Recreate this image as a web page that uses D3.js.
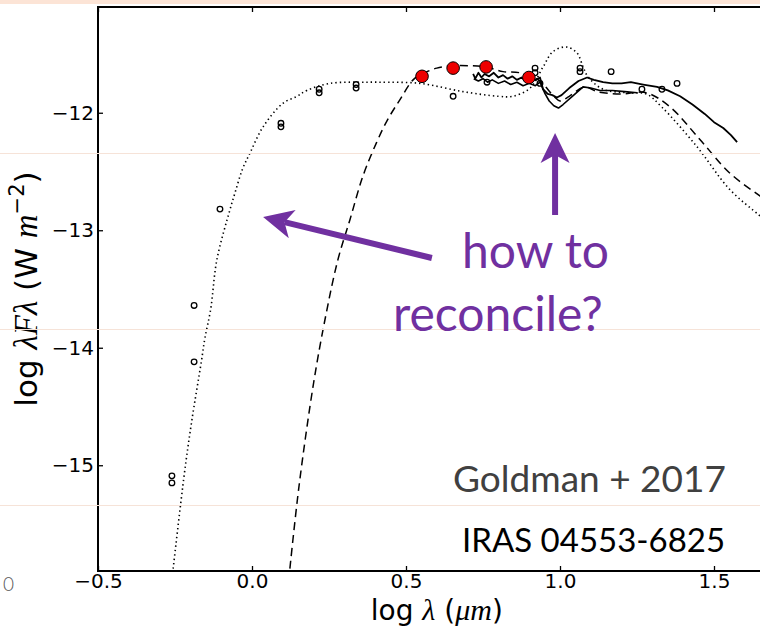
<!DOCTYPE html>
<html>
<head>
<meta charset="utf-8">
<script src="https://cdn.jsdelivr.net/npm/d3@7"></script>
<style>
  html, body { margin: 0; padding: 0; background: #ffffff; }
  svg { display: block; }
</style>
</head>
<body>
<svg id="chart" width="760" height="628"></svg>
<script>
// ---------------- DATA ----------------
// photometry (open circles): log lambda (um), log lambda F lambda (W m^-2)
const photX = [-0.26, -0.26, -0.188, -0.188, -0.104, 0.094, 0.094, 0.218, 0.218, 0.338, 0.338,
               0.653, 0.763, 0.919, 0.919, 0.935, 1.065, 1.065, 1.166, 1.266, 1.331, 1.38];
const photY = [-15.09, -15.15, -13.64, -14.12, -12.82, -12.09, -12.12, -11.80, -11.83, -11.76, -11.79,
               -11.86, -11.74, -11.62, -11.66, -11.75, -11.62, -11.65, -11.65, -11.80, -11.80, -11.75];

// highlighted photometry (red filled circles)
const redX = [0.552, 0.653, 0.760, 0.899];
const redY = [-11.69, -11.62, -11.61, -11.70];

// model 1 (dotted)
const dotX = [-0.256, -0.22, -0.196, -0.164, -0.153, -0.134, -0.114, -0.071, -0.055, -0.031, -0.006, 0.036,
              0.10, 0.146, 0.178, 0.253, 0.373, 0.416, 0.545, 0.685, 0.80, 0.847, 0.903, 0.945, 0.977,
              1.02, 1.055, 1.075, 1.09, 1.14, 1.227, 1.28, 1.33, 1.445, 1.55, 1.65, 1.70];
const dotY = [-15.88, -15.08, -14.63, -14.11, -13.92, -13.67, -13.25, -12.82, -12.68, -12.48, -12.34, -12.12,
              -11.92, -11.86, -11.81, -11.75, -11.74, -11.74, -11.75, -11.82, -11.86, -11.86, -11.79, -11.61, -11.48,
              -11.44, -11.49, -11.61, -11.69, -11.80, -11.83, -11.84, -11.95, -12.29, -12.65, -12.88, -13.0];

// model 2 (dashed)
const dashX = [0.123, 0.153, 0.20, 0.24, 0.279, 0.318, 0.36, 0.405, 0.44, 0.48, 0.523, 0.552, 0.60, 0.653,
               0.71, 0.76, 0.815, 0.87, 0.93, 0.98, 1.0, 1.03, 1.08, 1.12, 1.195, 1.28, 1.357, 1.455, 1.55, 1.65, 1.70];
const dashY = [-15.88, -15.17, -14.30, -13.72, -13.25, -12.91, -12.54, -12.25, -12.06, -11.89, -11.72, -11.67, -11.62, -11.60,
               -11.60, -11.61, -11.65, -11.66, -11.72, -11.86, -11.90, -11.86, -11.78, -11.82, -11.84, -11.83, -11.95, -12.23, -12.51, -12.71, -12.80];

// spectrum A (solid, upper)
const specAX = [0.718, 0.725, 0.735, 0.745, 0.755, 0.77, 0.785, 0.80, 0.815, 0.83, 0.845, 0.86, 0.875, 0.89,
                0.905, 0.92, 0.935, 0.945, 0.96, 0.975, 0.99, 1.005, 1.03, 1.06, 1.088, 1.11, 1.14, 1.17,
                1.20, 1.23, 1.27, 1.315, 1.35, 1.39, 1.43, 1.47, 1.50, 1.53, 1.555, 1.575];
const specAY = [-11.67, -11.71, -11.66, -11.70, -11.67, -11.69, -11.66, -11.70, -11.68, -11.71, -11.69, -11.72, -11.70, -11.73,
                -11.70, -11.72, -11.70, -11.80, -11.84, -11.85, -11.87, -11.85, -11.79, -11.73, -11.70, -11.72, -11.74, -11.75,
                -11.75, -11.74, -11.76, -11.78, -11.81, -11.86, -11.93, -12.01, -12.08, -12.13, -12.19, -12.25];

// spectrum B (solid, lower)
const specBX = [0.72, 0.735, 0.75, 0.765, 0.78, 0.80, 0.82, 0.84, 0.86, 0.88, 0.90, 0.92, 0.935, 0.95,
                0.965, 0.98, 0.995, 1.01, 1.04, 1.075, 1.10, 1.13, 1.17, 1.21, 1.25];
const specBY = [-11.71, -11.73, -11.71, -11.74, -11.72, -11.75, -11.73, -11.76, -11.74, -11.77, -11.75, -11.77, -11.74, -11.83,
                -11.90, -11.94, -11.96, -11.93, -11.86, -11.78, -11.79, -11.81, -11.81, -11.82, -11.83];

const xTicks = [-0.5, 0.0, 0.5, 1.0, 1.5];
const yTicks = [-15, -14, -13, -12];

// annotations (data coordinates)
const arrowLeft = {from: [0.584, -13.236], to: [0.036, -12.887]};
const arrowUp = {from: [0.984, -12.87], to: [0.984, -12.172]};

// ---------------- DRAW ----------------
const svg = d3.select("#chart");
const W = 760, H = 628;
const pLeft = 98, pTop = 7, pBottom = 571;
const x = d3.scaleLinear().domain([-0.5, 1.7]).range([pLeft, pLeft + 2.2 * 308]);
const y = d3.scaleLinear().domain([-15.9, -11.1]).range([pBottom, pTop]);
const pRight = x(1.7);

svg.append("rect").attr("x", 0).attr("y", 0).attr("width", W).attr("height", H).attr("fill", "#ffffff");
// slide header band
svg.append("rect").attr("x", 0).attr("y", 0).attr("width", W).attr("height", 4).attr("fill", "#FCE4D6");

const clip = svg.append("defs").append("clipPath").attr("id", "plotclip");
clip.append("rect").attr("x", pLeft).attr("y", pTop).attr("width", pRight - pLeft).attr("height", pBottom - pTop);

const plot = svg.append("g").attr("clip-path", "url(#plotclip)");

const lineLin = d3.line().x(d => x(d[0])).y(d => y(d[1]));
const lineSmooth = d3.line().x(d => x(d[0])).y(d => y(d[1])).curve(d3.curveCatmullRom);
const zip = (a, b) => a.map((v, i) => [v, b[i]]);

plot.append("path").datum(zip(dotX, dotY)).attr("d", lineSmooth)
  .attr("fill", "none").attr("stroke", "#000").attr("stroke-width", 1.6).attr("stroke-dasharray", "1.4 3")
  .attr("stroke-linecap", "butt");

plot.append("path").datum(zip(dashX, dashY)).attr("d", lineSmooth)
  .attr("fill", "none").attr("stroke", "#000").attr("stroke-width", 1.5).attr("stroke-dasharray", "8 5");

plot.append("path").datum(zip(specBX, specBY)).attr("d", lineLin)
  .attr("fill", "none").attr("stroke", "#000").attr("stroke-width", 1.6).attr("stroke-linejoin", "round");
plot.append("path").datum(zip(specAX, specAY)).attr("d", lineLin)
  .attr("fill", "none").attr("stroke", "#000").attr("stroke-width", 1.8).attr("stroke-linejoin", "round");

plot.selectAll("circle.phot").data(zip(photX, photY)).enter().append("circle")
  .attr("class", "phot").attr("cx", d => x(d[0])).attr("cy", d => y(d[1])).attr("r", 2.8)
  .attr("fill", "none").attr("stroke", "#000").attr("stroke-width", 1.3);

plot.selectAll("circle.red").data(zip(redX, redY)).enter().append("circle")
  .attr("class", "red").attr("cx", d => x(d[0])).attr("cy", d => y(d[1])).attr("r", 6.3)
  .attr("fill", "#EE0000").attr("stroke", "#000").attr("stroke-width", 1);

// axes frame
const frame = svg.append("g").attr("stroke", "#000").attr("stroke-width", 2).attr("fill", "none");
frame.append("line").attr("x1", pLeft).attr("x2", pLeft).attr("y1", pTop).attr("y2", pBottom + 1);
frame.append("line").attr("x1", pLeft - 1).attr("x2", pRight).attr("y1", pBottom).attr("y2", pBottom);
frame.append("line").attr("x1", pLeft - 1).attr("x2", pRight).attr("y1", pTop).attr("y2", pTop);
frame.append("line").attr("x1", pRight).attr("x2", pRight).attr("y1", pTop).attr("y2", pBottom);

// axes with inward ticks
const xAxisB = d3.axisBottom(x).tickValues(xTicks).tickSize(-5).tickPadding(3)
  .tickFormat(d => d3.format(".1f")(d).replace("-", "\u2212"));
const gx = svg.append("g").attr("transform", `translate(0,${pBottom})`).call(xAxisB);
gx.select(".domain").remove();
gx.selectAll("line").attr("stroke", "#000").attr("stroke-width", 1.3);
gx.selectAll("text").attr("font-family", "DejaVu Sans").attr("font-size", 20).attr("fill", "#000");

const xAxisT = d3.axisTop(x).tickValues(xTicks).tickSize(-5).tickFormat("");
const gxt = svg.append("g").attr("transform", `translate(0,${pTop})`).call(xAxisT);
gxt.select(".domain").remove();
gxt.selectAll("line").attr("stroke", "#000").attr("stroke-width", 1.3);

const yAxisL = d3.axisLeft(y).tickValues(yTicks).tickSize(-5).tickPadding(4)
  .tickFormat(d => d3.format("d")(d).replace("-", "\u2212"));
const gy = svg.append("g").attr("transform", `translate(${pLeft},0)`).call(yAxisL);
gy.select(".domain").remove();
gy.selectAll("line").attr("stroke", "#000").attr("stroke-width", 1.3);
gy.selectAll("text").attr("font-family", "DejaVu Sans").attr("font-size", 20).attr("fill", "#000");

// axis titles
const xl = svg.append("text").attr("x", (pLeft + pRight) / 2).attr("y", 620).attr("text-anchor", "middle")
  .attr("font-family", "DejaVu Sans").attr("font-size", 28).attr("fill", "#000");
xl.append("tspan").text("log ");
xl.append("tspan").attr("font-family", "Liberation Serif").attr("font-style", "italic").attr("font-size", 30).text("\u03bb");
xl.append("tspan").text(" (");
xl.append("tspan").attr("font-family", "Liberation Serif").attr("font-style", "italic").attr("font-size", 30).text("\u03bcm");
xl.append("tspan").text(")");

const yl = svg.append("text").attr("transform", `translate(37,${(pTop + pBottom) / 2}) rotate(-90)`)
  .attr("text-anchor", "middle").attr("font-family", "DejaVu Sans").attr("font-size", 31).attr("fill", "#000");
yl.append("tspan").text("log ");
yl.append("tspan").attr("font-family", "Liberation Serif").attr("font-style", "italic").attr("font-size", 33).text("\u03bbF\u03bb");
yl.append("tspan").text(" (W ");
yl.append("tspan").attr("font-family", "Liberation Serif").attr("font-style", "italic").attr("font-size", 33).text("m");
yl.append("tspan").attr("font-size", 21).attr("dy", -13).text("\u22122");
yl.append("tspan").attr("dy", 13).text(")");

// faint slide guide lines
[153, 329, 505].forEach(v => {
  svg.append("line").attr("x1", 0).attr("x2", W).attr("y1", v + 0.5).attr("y2", v + 0.5)
    .attr("stroke", "#F6E3D8").attr("stroke-width", 1);
});

// stray slide label at left
svg.append("text").attr("x", 3).attr("y", 591).attr("font-family", "Lato").attr("font-weight", 300).attr("font-size", 19)
  .attr("fill", "#595959").text("0");

// purple arrows
const purple = "#7030A0";
function arrow(a) {
  const x0 = x(a.from[0]), y0 = y(a.from[1]), x1 = x(a.to[0]), y1 = y(a.to[1]);
  const dx = x1 - x0, dy = y1 - y0, L = Math.hypot(dx, dy);
  const ux = dx / L, uy = dy / L, px = -uy, py = ux;
  const headL = 30, headW = 14.5, notch = 22;
  const bx = x1 - ux * notch, by = y1 - uy * notch;
  svg.append("line").attr("x1", x0).attr("y1", y0).attr("x2", bx).attr("y2", by)
    .attr("stroke", purple).attr("stroke-width", 6);
  const hx = x1 - ux * headL, hy = y1 - uy * headL;
  const pts = [[x1, y1], [hx + px * headW, hy + py * headW], [bx, by], [hx - px * headW, hy - py * headW]];
  svg.append("polygon").attr("points", pts.map(p => p.join(",")).join(" ")).attr("fill", purple);
}
arrow(arrowLeft);
arrow(arrowUp);

svg.append("text").attr("x", 462).attr("y", 268).attr("font-family", "Lato").attr("font-size", 48)
  .attr("fill", purple).text("how to");
svg.append("text").attr("x", 393).attr("y", 331).attr("font-family", "Lato").attr("font-size", 48)
  .attr("fill", purple).text("reconcile?");

svg.append("text").attr("x", 453).attr("y", 492).attr("font-family", "Lato").attr("font-size", 37)
  .attr("fill", "#404040").text("Goldman + 2017");
svg.append("text").attr("x", 462).attr("y", 552).attr("font-family", "Lato").attr("font-size", 33)
  .attr("fill", "#000").text("IRAS 04553-6825");
</script>
</body>
</html>
